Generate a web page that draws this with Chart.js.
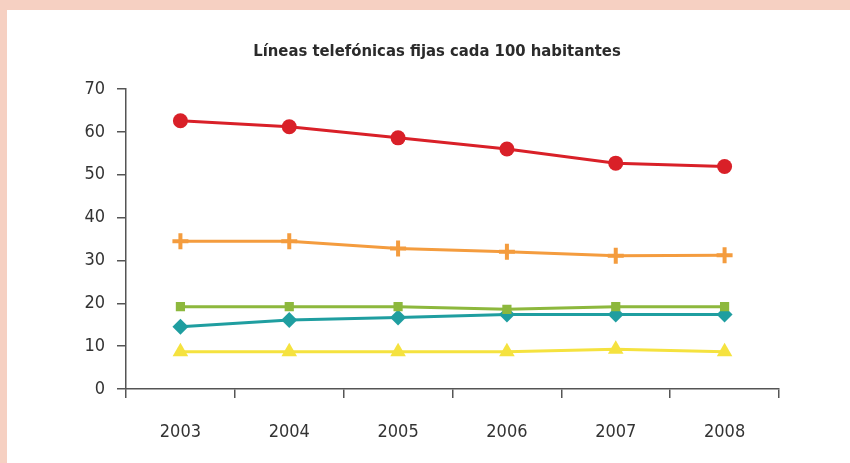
<!DOCTYPE html>
<html>
<head>
<meta charset="utf-8">
<script src="https://cdn.jsdelivr.net/npm/chart.js@4.4.1/dist/chart.umd.min.js"></script>
<style>
  html, body { margin: 0; padding: 0; background: #fff; }
  .frame {
    width: 843px; height: 453px;
    border-top: 10px solid #f6d0c2;
    border-left: 7px solid #f6d0c2;
    background: #fff;
  }
  canvas { display: block; }
</style>
</head>
<body>
<div class="frame"><canvas id="chart" width="843" height="453"></canvas></div>
<script>
// datos
const TITULO = 'Líneas telefónicas fijas cada 100 habitantes';
const YEARS = ['2003', '2004', '2005', '2006', '2007', '2008'];
const ROJO = [62.6, 61.2, 58.6, 56.0, 52.7, 51.9];
const NARANJA = [34.5, 34.5, 32.8, 32.0, 31.1, 31.2];
const VERDE = [19.2, 19.2, 19.2, 18.6, 19.2, 19.2];
const TURQUESA = [14.5, 16.1, 16.7, 17.4, 17.4, 17.4];
const AMARILLO = [8.7, 8.7, 8.7, 8.7, 9.3, 8.7];
const Y_TICKS = [0, 10, 20, 30, 40, 50, 60, 70];

const FONT = '"DejaVu Sans Condensed", "Liberation Sans Narrow", sans-serif';
const AXIS = '#555';

function serie(data, color, style, radius, bw) {
  return {
    data: data,
    borderColor: color,
    backgroundColor: color,
    borderWidth: 3,
    tension: 0,
    pointStyle: style,
    pointRadius: radius,
    pointHoverRadius: radius,
    pointBackgroundColor: color,
    pointBorderColor: color,
    pointBorderWidth: bw
  };
}

// el titulo va centrado en el recuadro, no sobre el area del grafico
const tituloPlugin = {
  id: 'titulo',
  afterDraw(chart) {
    const ctx = chart.ctx;
    ctx.save();
    ctx.font = 'bold 16.5px ' + FONT;
    ctx.fillStyle = '#2b2b2b';
    ctx.textAlign = 'center';
    ctx.textBaseline = 'middle';
    ctx.fillText(TITULO, 430, 42);
    ctx.restore();
  }
};

new Chart(document.getElementById('chart'), {
  type: 'line',
  data: {
    labels: YEARS,
    datasets: [
      serie(ROJO, '#d92028', 'circle', 7.5, 0),
      serie(NARANJA, '#f49c3e', 'cross', 8, 4),
      serie(VERDE, '#8db83d', 'rect', 6.5, 0),
      serie(TURQUESA, '#1f9ea0', 'rectRot', 8, 0),
      serie(AMARILLO, '#f5e23f', 'triangle', 9, 0)
    ]
  },
  plugins: [tituloPlugin],
  options: {
    responsive: false,
    animation: false,
    layout: { padding: { left: 0, right: 71, top: 79, bottom: 0 } },
    plugins: {
      legend: { display: false },
      tooltip: { enabled: false },
      title: { display: false }
    },
    scales: {
      x: {
        offset: true,
        grid: {
          offset: true,
          drawOnChartArea: false,
          drawTicks: true,
          tickLength: 9,
          color: AXIS,
          lineWidth: 1.5
        },
        border: { color: AXIS, width: 1.5 },
        ticks: {
          color: '#333',
          font: { family: FONT, size: 18 },
          padding: 24,
          maxRotation: 0
        },
        afterFit: s => { s.height = 74; }
      },
      y: {
        min: 0,
        max: 70,
        afterBuildTicks: s => { s.ticks = Y_TICKS.map(v => ({ value: v })); },
        grid: {
          drawOnChartArea: false,
          drawTicks: true,
          tickLength: 9,
          color: AXIS,
          lineWidth: 1.5
        },
        border: { color: AXIS, width: 1.5 },
        ticks: {
          color: '#333',
          font: { family: FONT, size: 18 },
          padding: 12
        },
        afterFit: s => { s.width = 119; }
      }
    }
  }
});
</script>
</body>
</html>
